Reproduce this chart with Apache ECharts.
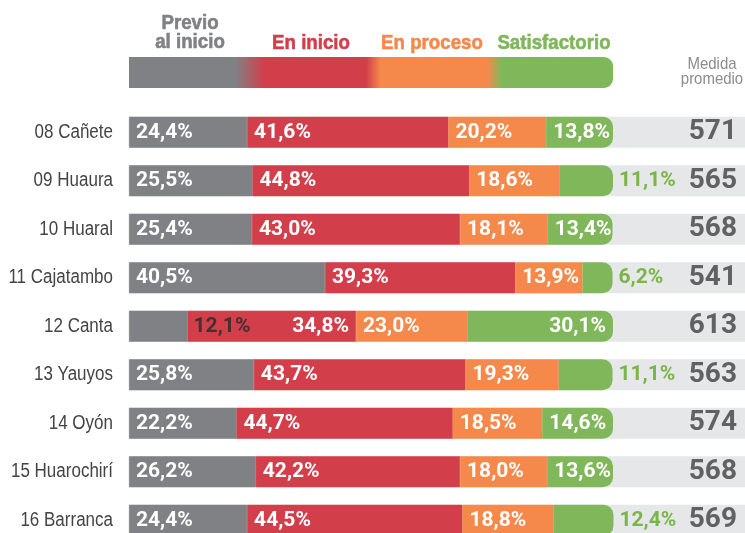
<!DOCTYPE html>
<html>
<head>
<meta charset="utf-8">
<script src="https://cdn.jsdelivr.net/npm/echarts@6/dist/echarts.min.js"></script>
<style>
  html, body { margin: 0; padding: 0; background: #fff; }
  #chart { width: 745px; height: 533px; }
</style>
</head>
<body>
<div id="chart"></div>
<script>
// Provincias (UGEL) y distribución por nivel de logro
const provincias = ['08 Cañete', '09 Huaura', '10 Huaral', '11 Cajatambo', '12 Canta',
                    '13 Yauyos', '14 Oyón', '15 Huarochirí', '16 Barranca'];
const previo        = [24.4, 25.5, 25.4, 40.5, 12.1, 25.8, 22.2, 26.2, 24.4];
const enInicio      = [41.6, 44.8, 43.0, 39.3, 34.8, 43.7, 44.7, 42.2, 44.5];
const enProceso     = [20.2, 18.6, 18.1, 13.9, 23.0, 19.3, 18.5, 18.0, 18.8];
const satisfactorio = [13.8, 11.1, 13.4, 6.2, 30.1, 11.1, 14.6, 13.6, 12.4];
const medida        = [571, 565, 568, 541, 613, 563, 574, 568, 569];

const niveles = ['Previo\nal inicio', 'En inicio', 'En proceso', 'Satisfactorio'];

const C_GRIS = '#808184', C_ROJO = '#d23f4b', C_NARANJA = '#f5894b', C_VERDE = '#80b75b';
const C_FONDO = '#e6e7e8';

const W = 745, GRID_L = 129, BAR_END = 613;
// the x scale runs 0..100 across the bar; the grey band continues to the page edge
const XMAX = 100 * (W - GRID_L) / (BAR_END - GRID_L);

const pct = v => v.toFixed(1).replace('.', ',') + '%';
const NUM_FONT = 'Roboto';
const TXT_FONT = '"Liberation Sans", Arial, sans-serif';
const NARROW = 0.85;   // horizontal squeeze giving a condensed face

const baseLabel = {
  show: true, color: '#fff', fontFamily: NUM_FONT, fontWeight: 'bold', fontSize: 21,
  position: 'insideLeft', distance: 7, formatter: p => pct(p.value)
};

// thin grey segment: its label sits just past the segment, in dark ink
const dPrevio = previo.map(v => v < 15
  ? { value: v, label: { position: 'right', distance: 6, color: 'rgba(45,45,45,0.85)' } }
  : v);
// when the preceding label spills over, the red label moves to the segment's end
const dInicio = enInicio.map((v, i) => previo[i] < 15
  ? { value: v, label: { position: 'insideRight', distance: 7 } }
  : v);
const dProceso = enProceso.slice();
const dSatis = satisfactorio.map(v => {
  if (v < 13) return { value: v, label: { position: 'right', distance: 6, color: '#7ab547' } };
  if (v >= 20) return { value: v, label: { position: 'insideRight', distance: 7 } };
  return v;
});

const barCommon = { type: 'bar', stack: 'nivel', barWidth: 31, barGap: '-100%' };
// a hairline in the segment's own colour closes the anti-aliasing seams
const seg = c => ({ color: c, borderColor: c, borderWidth: 0.5 });

// province names, right-aligned against the bars in a condensed face
function renderNombre(params, api) {
  const pt = api.coord([0, api.value(1)]);
  return {
    type: 'text', x: pt[0] - 16, y: pt[1], scaleX: NARROW, originX: 0, originY: 0,
    style: {
      text: provincias[params.dataIndex], fill: '#444444',
      font: '20px ' + TXT_FONT, textAlign: 'right', textVerticalAlign: 'middle'
    }
  };
}

function titulo(text, x, y, color) {
  return { type: 'text', x: x, y: y, scaleX: 0.89, originX: 0, originY: 0,
    style: { text: text, fill: color, stroke: color, lineWidth: 0.6,
      font: 'bold 21px ' + TXT_FONT,
      textAlign: 'center', textVerticalAlign: 'middle', lineHeight: 19 } };
}

const option = {
  animation: false,
  grid: { left: GRID_L, right: 0, top: 108, height: 9 * 48.5,
          containLabel: false, outerBoundsMode: 'none' },
  xAxis: { type: 'value', min: 0, max: XMAX, show: false },
  yAxis: {
    type: 'category', data: provincias, inverse: true,
    axisLine: { show: false }, axisTick: { show: false }, splitLine: { show: false },
    axisLabel: { show: false }
  },
  series: [
    {
      name: 'Medida promedio', type: 'bar', barWidth: 31, barGap: '-100%',
      data: medida.map(() => XMAX), itemStyle: { color: C_FONDO }, silent: true,
      label: {
        show: true, position: 'insideRight', distance: 8,
        formatter: p => String(medida[p.dataIndex]),
        color: '#616161', fontFamily: NUM_FONT, fontWeight: 'bold', fontSize: 28
      }
    },
    Object.assign({}, barCommon, { name: niveles[0], data: dPrevio,
      itemStyle: seg(C_GRIS), label: baseLabel }),
    Object.assign({}, barCommon, { name: niveles[1], data: dInicio,
      itemStyle: seg(C_ROJO), label: baseLabel }),
    Object.assign({}, barCommon, { name: niveles[2], data: dProceso,
      itemStyle: seg(C_NARANJA), label: baseLabel }),
    Object.assign({}, barCommon, { name: niveles[3], data: dSatis,
      itemStyle: { color: C_VERDE, borderRadius: [0, 10, 10, 0] }, label: baseLabel }),
    {
      name: 'nombres', type: 'custom', silent: true, clip: false,
      data: provincias.map((n, i) => [0, i]),
      encode: { x: 0, y: 1 },
      renderItem: renderNombre
    }
  ],
  graphic: [
    // colour key: gradient strip under the level titles
    {
      type: 'rect', left: GRID_L, top: 57,
      shape: { width: BAR_END - GRID_L, height: 31, r: [0, 9, 9, 0] },
      style: {
        fill: {
          type: 'linear', x: 0, y: 0, x2: 1, y2: 0,
          colorStops: [
            { offset: 0.00, color: C_GRIS },
            { offset: 0.22, color: C_GRIS },
            { offset: 0.28, color: C_ROJO },
            { offset: 0.49, color: C_ROJO },
            { offset: 0.52, color: C_NARANJA },
            { offset: 0.74, color: C_NARANJA },
            { offset: 0.77, color: C_VERDE },
            { offset: 1.00, color: C_VERDE }
          ]
        }
      }
    },
    titulo(niveles[0], 190, 33, C_GRIS),
    titulo(niveles[1], 311, 43, C_ROJO),
    titulo(niveles[2], 432, 43, C_NARANJA),
    titulo(niveles[3], 554, 43, C_VERDE),
    { type: 'text', x: 712, y: 57, scaleX: 0.88, originX: 0, originY: 0,
      style: { text: 'Medida\npromedio', fill: '#8c8c8c',
        font: '17px ' + TXT_FONT, textAlign: 'center', lineHeight: 15 } }
  ]
};

const chart = echarts.init(document.getElementById('chart'), null, { renderer: 'canvas' });
chart.setOption(option);
</script>
</body>
</html>
